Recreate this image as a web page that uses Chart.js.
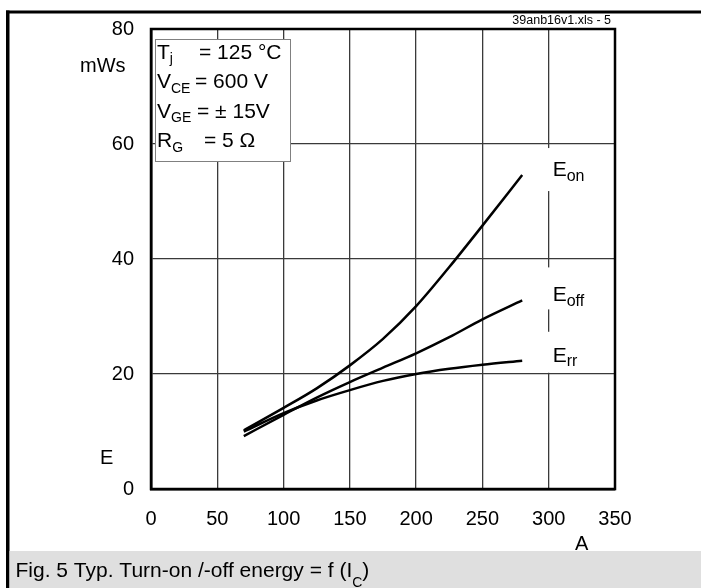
<!DOCTYPE html>
<html>
<head>
<meta charset="utf-8">
<script src="https://cdn.jsdelivr.net/npm/chart.js@4/dist/chart.umd.min.js"></script>
<style>
  html, body { margin: 0; padding: 0; background: #fff; }
  #wrap { position: relative; width: 701px; height: 588px; }
</style>
</head>
<body>
<div id="wrap"><canvas id="chart" width="701" height="588"></canvas></div>
<script>
// Fig. 5 - switching energy vs collector current
// =====================================================

const currents = [70, 100, 125, 150, 175, 200, 225, 250, 280];        // A
const eOn  = [10.2, 14.1, 17.5, 21.5, 26.1, 31.8, 38.6, 45.8, 54.6];   // mWs
const eOff = [9.2, 12.9, 15.9, 18.6, 21.1, 23.6, 26.4, 29.5, 32.8];
const eRr  = [10.0, 13.2, 15.4, 17.2, 18.8, 20.0, 20.9, 21.6, 22.3];

const xTicks = [0, 50, 100, 150, 200, 250, 300, 350];
const yTicks = [0, 20, 40, 60, 80];

// Test conditions shown in the box (symbol, subscript, rest)
const conditions = [
  ['T', 'j', '= 125 °C'],
  ['V', 'CE', '= 600 V'],
  ['V', 'GE', '= ± 15V'],
  ['R', 'G', '= 5 Ω']
];

const curveNames = ['on', 'off', 'rr'];
const curveData = [eOn, eOff, eRr];

const FONT = '"Liberation Sans", Arial, Helvetica, sans-serif';

function font(size) {
  return size + 'px ' + FONT;
}

// Draw a symbol with subscript, returns x after subscript
function subText(ctx, main, sub, x, y, size, subSize, drop) {
  ctx.font = font(size);
  ctx.fillText(main, x, y);
  const w = ctx.measureText(main).width;
  ctx.font = font(subSize);
  ctx.fillText(sub, x + w, y + drop);
  return x + w + ctx.measureText(sub).width;
}

const decorPlugin = {
  id: 'decor',
  beforeDraw(chart) {
    const ctx = chart.ctx;
    ctx.save();
    ctx.fillStyle = '#fff';
    ctx.fillRect(0, 0, chart.width, chart.height);
    ctx.restore();
  },
  afterDraw(chart) {
    const ctx = chart.ctx;
    const area = chart.chartArea;
    const xs = chart.scales.x;
    const ys = chart.scales.y;

    ctx.save();

    // plot frame (top + right)
    ctx.strokeStyle = '#000';
    ctx.lineWidth = 2.5;
    ctx.strokeRect(area.left, area.top, area.right - area.left, area.bottom - area.top);

    ctx.fillStyle = '#000';
    ctx.textBaseline = 'alphabetic';

    // curve labels at the right end of each curve; their text boxes
    // interrupt the 300 A grid line
    const gx = xs.getPixelForValue(300);
    const lx = xs.getPixelForValue(303);
    const gaps = [[-28, 15], [-34, 8], [-30, 11]];
    curveData.forEach((arr, i) => {
      const by = ys.getPixelForValue(arr[arr.length - 1]) + 1;
      ctx.fillStyle = '#fff';
      ctx.fillRect(gx - 4, by + gaps[i][0], 8, gaps[i][1] - gaps[i][0]);
      ctx.fillStyle = '#000';
      subText(ctx, 'E', curveNames[i], lx, by, 21, 16, 4.5);
    });

    // conditions box
    ctx.fillStyle = '#fff';
    ctx.fillRect(155.5, 39.5, 135, 122);
    ctx.strokeStyle = '#808080';
    ctx.lineWidth = 1;
    ctx.strokeRect(155.5, 39.5, 135, 122);
    ctx.fillStyle = '#000';
    const eqX = [199, 195, 197, 204];
    conditions.forEach((c, i) => {
      const by = 58.5 + i * 29.6;
      subText(ctx, c[0], c[1], 157, by, 21, 14, 4.5);
      ctx.font = font(21);
      ctx.fillText(c[2], eqX[i], by);
    });

    // axis titles
    ctx.font = font(20);
    ctx.textAlign = 'left';
    ctx.fillText('mWs', 80, 72);
    ctx.fillText('E', 100, 464);
    ctx.fillText('A', 575, 550);

    // file tag
    ctx.font = font(12.5);
    ctx.textAlign = 'right';
    ctx.fillText('39anb16v1.xls - 5', 611, 24);

    // outer page frame
    ctx.fillRect(6, 10.5, chart.width - 6, 3);
    ctx.fillRect(6, 10.5, 3.5, chart.height - 10.5);

    // caption strip
    ctx.fillStyle = '#dfdfdf';
    ctx.fillRect(9.5, 551, chart.width - 9.5, chart.height - 551);
    ctx.fillStyle = '#000';
    ctx.textAlign = 'left';
    let cx = subText(ctx, 'Fig. 5 Typ. Turn-on /-off energy = f (I', 'C', 15.5, 577, 21, 14, 10);
    ctx.font = font(21);
    ctx.fillText(')', cx, 577);

    ctx.restore();
  }
};

function makeSeries(values) {
  return {
    data: currents.map((a, i) => ({ x: a, y: values[i] })),
    borderColor: '#000',
    borderWidth: 2.5,
    pointRadius: 0,
    fill: false,
    cubicInterpolationMode: 'monotone'
  };
}

const gridStyle = {
  color: '#3a3a3a',
  lineWidth: 1.3,
  drawTicks: false
};

new Chart(document.getElementById('chart'), {
  type: 'line',
  data: {
    datasets: [makeSeries(eOn), makeSeries(eOff), makeSeries(eRr)]
  },
  options: {
    responsive: false,
    animation: false,
    layout: { padding: { left: 0, top: 28, right: 86, bottom: 0 } },
    plugins: {
      legend: { display: false },
      tooltip: { enabled: false }
    },
    scales: {
      x: {
        type: 'linear',
        min: 0,
        max: 350,
        afterBuildTicks: s => { s.ticks = xTicks.map(v => ({ value: v })); },
        afterFit: s => { s.height = 99; },
        grid: gridStyle,
        border: { color: '#000', width: 2.5 },
        ticks: {
          color: '#000',
          padding: 18,
          maxRotation: 0,
          font: { family: FONT, size: 20 }
        }
      },
      y: {
        type: 'linear',
        min: 0,
        max: 80,
        afterBuildTicks: s => { s.ticks = yTicks.map(v => ({ value: v })); },
        afterFit: s => { s.width = 151; },
        grid: gridStyle,
        border: { color: '#000', width: 2.5 },
        ticks: {
          color: '#000',
          padding: 17,
          font: { family: FONT, size: 20 }
        }
      }
    }
  },
  plugins: [decorPlugin]
});
</script>
</body>
</html>
